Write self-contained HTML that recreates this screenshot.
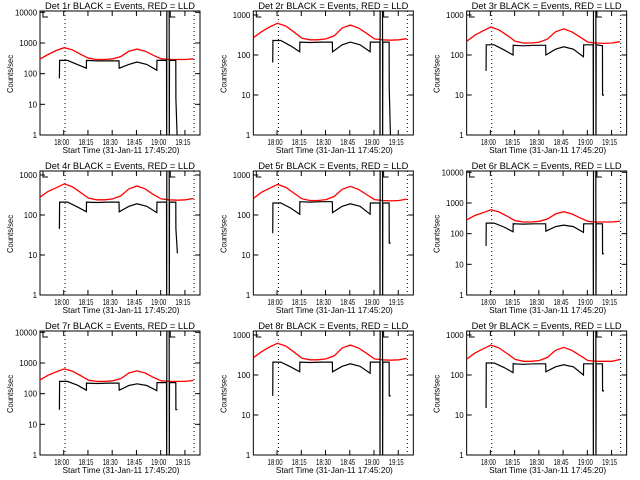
<!DOCTYPE html>
<html><head><meta charset="utf-8"><style>
html,body{margin:0;padding:0;background:#fff;}
svg{display:block;}
text{font-family:"Liberation Sans",sans-serif;fill:#000;}
</style></head><body>
<svg id="chart" width="640" height="480" viewBox="0 0 640 480" xmlns="http://www.w3.org/2000/svg"></svg>
<script>
const detNames = ["1r","2r","3r","4r","5r","6r","7r","8r","9r"];
const decades = [4,3,3,3,3,4,4,3,3];
const redTimes = [0,5,10,15,20,25,30,35,40,45,50,55,60,65,70,75,80,85,90,95];
const redP1 = [300,420,570,700,600,430,320,290,290,305,360,540,630,540,400,305,290,290,290,305];
const redP2 = [270,380,500,620,530,380,265,240,240,252,300,475,560,475,350,252,240,235,240,255];
const redP3 = [220,310,400,500,425,310,220,200,200,210,250,380,450,380,285,210,200,195,200,215];
const redP4 = [280,390,480,600,510,370,265,240,240,252,300,450,530,450,330,252,240,235,240,260];
const redP5 = [260,370,465,580,495,355,255,230,230,242,290,440,520,440,325,242,230,225,230,250];
const redP6 = [280,390,480,600,510,370,265,240,240,252,300,440,520,440,330,252,240,240,240,255];
const redP7 = [280,400,510,640,545,390,275,250,250,262,310,470,550,470,345,262,250,250,250,270];
const redP8 = [270,380,500,620,530,380,265,240,240,252,300,475,560,475,350,252,240,235,240,260];
const redP9 = [250,350,450,560,475,345,245,220,220,230,275,415,490,415,310,230,220,220,220,245];
const blackTimes = [12,12.1,17,23,28.7,28.8,35,42,48.9,49,55,60,66,72.3,72.4,78.3,78.4,78.5,79.9,80,80.1,84,84.1,85];
const blackP1 = [70,270,270,200,150,270,260,260,260,150,200,240,200,130,270,270,0.5,1e6,1e6,0.5,270,270,15,0.5];
const blackP2 = [65,230,230,170,120,210,205,210,210,120,180,210,180,120,210,210,0.5,1e6,1e6,0.5,210,210,15,0.5];
const blackP3 = [40,180,180,135,100,175,170,175,175,100,140,160,140,90,180,180,0.5,1e6,1e6,0.5,180,170,10,10];
const blackP4 = [45,210,210,160,120,210,205,210,210,120,165,190,165,115,210,210,0.5,1e6,1e6,0.5,210,210,45,11];
const blackP5 = [35,200,200,150,105,215,210,215,215,115,165,190,165,105,200,200,0.5,1e6,1e6,0.5,200,200,20,20];
const blackP6 = [40,220,220,165,115,210,205,210,210,120,170,190,170,110,210,210,0.5,1e6,1e6,0.5,210,210,22,22];
const blackP7 = [30,250,250,190,130,220,215,220,220,130,185,210,185,125,230,230,0.5,1e6,1e6,0.5,230,230,30,30];
const blackP8 = [30,210,210,160,120,210,205,210,210,120,165,190,165,110,210,210,0.5,1e6,1e6,0.5,210,210,30,30];
const blackP9 = [15,200,200,155,115,190,185,190,190,120,160,180,160,100,190,190,0.5,1e6,1e6,0.5,190,190,40,40];
const xTickMinutes = [14.67,29.67,44.67,59.67,74.67,89.67];
const xTickLabels = ["18:00","18:15","18:30","18:45","19:00","19:15"];
const dottedMinutes = [15.5,95.3];
const yTickLabels4 = ["1","10","100","1000","10000"];
const yTickLabels3 = ["1","10","100","1000"];

const reds=[redP1,redP2,redP3,redP4,redP5,redP6,redP7,redP8,redP9];
const blacks=[blackP1,blackP2,blackP3,blackP4,blackP5,blackP6,blackP7,blackP8,blackP9];
const NS="http://www.w3.org/2000/svg";
const svg=document.getElementById('chart');
function mk(tag,attrs,parent){const e=document.createElementNS(NS,tag);for(const k in attrs)e.setAttribute(k,attrs[k]);parent.appendChild(e);return e;}
const L=40,R=200,T=11,B=135,XMAX=99;
for(let p=0;p<9;p++){
  const col=p%3,row=Math.floor(p/3);
  const g=mk('g',{transform:`translate(${(col*213.33).toFixed(2)},${row*160})`},svg);
  
  
  const dec=decades[p];
  const decPx=(B-T-(dec===4?1.3:4))/dec;
  const xs=m=>L+m*(R-L)/XMAX;
  const ys=v=>B-Math.log10(v)*decPx;
  const cid='clip'+p;
  const cp=mk('clipPath',{id:cid},g);mk('rect',{x:L,y:T,width:R-L,height:B-T},cp);
  const t=mk('text',{x:120,y:9,'font-size':9.5,'text-anchor':'middle',textLength:150,lengthAdjust:'spacingAndGlyphs'},g);
  t.textContent=`Det ${detNames[p]} BLACK = Events, RED = LLD`;
  
  
  const box=mk('rect',{x:L,y:T,width:R-L,height:B-T,fill:'none',stroke:'#000','stroke-width':1},g);
  
  
  const ylabs=dec===4?yTickLabels4:yTickLabels3;
  ylabs.forEach((lab,i)=>{
    const y=ys(Math.pow(10,i));
    mk('line',{x1:L,x2:L+5,y1:y,y2:y,stroke:'#000'},g);
    mk('line',{x1:R-5,x2:R,y1:y,y2:y,stroke:'#000'},g);
    const tx=mk('text',{x:L-3,y:y+3,'font-size':8,'text-anchor':'end',textLength:lab.length*4.4,lengthAdjust:'spacingAndGlyphs'},g);
    tx.textContent=lab;
    
    
  });
  xTickMinutes.forEach((m,i)=>{
    const x=xs(m);
    mk('line',{x1:x,x2:x,y1:B,y2:B-5,stroke:'#000'},g);
    mk('line',{x1:x,x2:x,y1:T,y2:T+5,stroke:'#000'},g);
    const tx=mk('text',{x:x-2,y:145,'font-size':8,'text-anchor':'middle',textLength:15,lengthAdjust:'spacingAndGlyphs'},g);
    tx.textContent=xTickLabels[i];
    
    
  });
  const xt=mk('text',{x:121,y:153,'font-size':8.5,'text-anchor':'middle',textLength:117,lengthAdjust:'spacingAndGlyphs'},g);
  xt.textContent='Start Time (31-Jan-11 17:45:20)';
  
  
  const yt=mk('text',{x:0,y:0,'font-size':8,'text-anchor':'middle',textLength:38,lengthAdjust:'spacingAndGlyphs',transform:'translate(13,74) rotate(-90)'},g);
  yt.textContent='Counts/sec';
  
  
  dottedMinutes.forEach(m=>{
    const d=mk('line',{x1:xs(m),x2:xs(m),y1:T,y2:B,stroke:'#000','stroke-dasharray':'1,3'},g);
    
    
  });
  mk('path',{d:`M${L+3},${T} V${T+6} H${L+8}`,fill:'none',stroke:'#000'},g);
  mk('path',{d:`M${xs(80)+1},${T} V${T+6} H${xs(80)+6}`,fill:'none',stroke:'#000'},g);
  const cg=mk('g',{'clip-path':`url(#${cid})`},g);
  const rv=reds[p];
  const rp=mk('polyline',{points:redTimes.map((m,i)=>xs(m).toFixed(1)+','+ys(rv[i]).toFixed(1)).join(' '),fill:'none',stroke:'#ff0000','stroke-width':1.3},cg);
  
  
  const bv=blacks[p];
  const bp=mk('polyline',{points:blackTimes.map((m,i)=>xs(m).toFixed(1)+','+ys(Math.max(bv[i],0.3)).toFixed(1)).join(' '),fill:'none',stroke:'#000','stroke-width':1.2},cg);
  
  
}
</script>
</body></html>
